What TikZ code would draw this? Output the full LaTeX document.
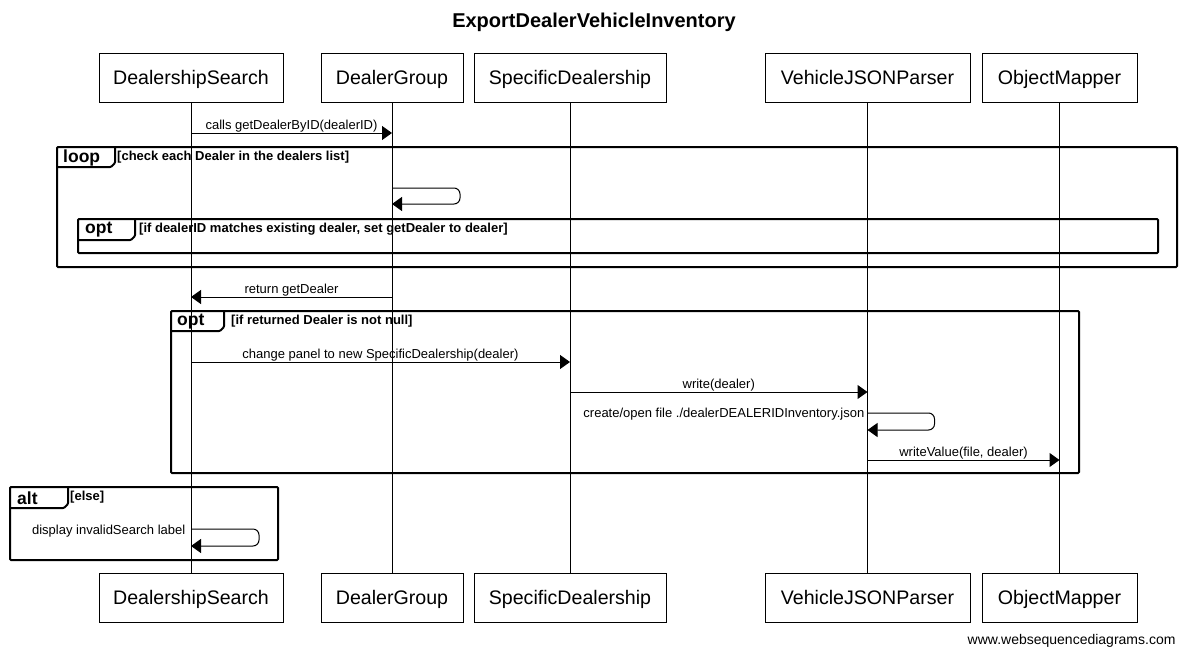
\documentclass[tikz,border=0pt]{standalone}
\usepackage{fontspec}
\setmainfont{Liberation Sans}
\usetikzlibrary{arrows.meta,positioning,calc}

\tikzset{
    actor/.style={draw, line width=1pt, minimum height=49pt, inner sep=0pt,
        text height=16pt, text depth=3pt, font=\fontsize{19.6}{23}\selectfont},
    life/.style={line width=1pt},
    msg/.style={line width=1pt, -{Triangle[length=10pt,width=14pt]}},
    lbl/.style={font=\fontsize{13}{15}\selectfont, inner sep=0.5pt},
    frame/.style={line width=2pt, rounded corners=1pt},
    tag/.style={font=\bfseries\fontsize{17.5}{20}\selectfont, anchor=west, inner sep=0pt},
    cond/.style={font=\bfseries\fontsize{13}{15}\selectfont, anchor=north west, inner sep=0pt}
}

\begin{document}
\begin{tikzpicture}[x=1pt, y=-1pt]
    \useasboundingbox[fill=white] (0,0) rectangle (1188,656);
    % Title
    \node[font=\bfseries\fontsize{20}{24}\selectfont] (title) at (594,22.5) {ExportDealerVehicleInventory};
    % Participants, top and bottom
    \node[actor, minimum width=184pt] (dsTop) at (191,77.5) {DealershipSearch};
    \node[actor, minimum width=142pt] (dgTop) at (392,77.5) {DealerGroup};
    \node[actor, minimum width=192pt] (sdTop) at (570,77.5) {SpecificDealership};
    \node[actor, minimum width=205pt] (vpTop) at (867.5,77.5) {VehicleJSONParser};
    \node[actor, minimum width=155pt] (omTop) at (1059.5,77.5) {ObjectMapper};
    \node[actor, minimum width=184pt] (dsBot) at (191,597.5) {DealershipSearch};
    \node[actor, minimum width=142pt] (dgBot) at (392,597.5) {DealerGroup};
    \node[actor, minimum width=192pt] (sdBot) at (570,597.5) {SpecificDealership};
    \node[actor, minimum width=205pt] (vpBot) at (867.5,597.5) {VehicleJSONParser};
    \node[actor, minimum width=155pt] (omBot) at (1059.5,597.5) {ObjectMapper};
    % Lifelines
    \foreach \p in {ds,dg,sd,vp,om}
        \draw[life] (\p Top.south) -- (\p Bot.north);
    % First call
    \draw[msg] (dsTop.south |- 0,133) -- node[lbl, above] {calls getDealerByID(dealerID)} (dgTop.south |- 0,133);
    % Loop frame
    \draw[frame] (57,147) rectangle (1177,267);
    \draw[frame] (57,167) -- (111,167) -- (115,163) -- (115,147);
    \node[tag] (loopTag) at (63,157.5) {loop};
    \node[cond] (loopCond) at (117,150.5) {[check each Dealer in the dealers list]};
    \draw[msg, rounded corners=6pt] (dgTop.south |- 0,188) -- ++(68,0) -- ++(0,16) -- (dgTop.south |- 0,204);
    % Inner opt frame
    \draw[frame] (78,219) rectangle (1158,253);
    \draw[frame] (78,240) -- (131,240) -- (135,236) -- (135,219);
    \node[tag] (optTagA) at (85,230) {opt};
    \node[cond] (optCondA) at (139,222.5) {[if dealerID matches existing dealer, set getDealer to dealer]};
    % Return
    \draw[msg] (dgTop.south |- 0,297) -- node[lbl, above] {return getDealer} (dsTop.south |- 0,297);
    % Outer opt frame
    \draw[frame] (171,311) rectangle (1079,473);
    \draw[frame] (171,331) -- (220,331) -- (224,327) -- (224,311);
    \node[tag] (optTagB) at (177,322) {opt};
    \node[cond] (optCondB) at (231,314.5) {[if returned Dealer is not null]};
    \draw[msg] (dsTop.south |- 0,362) -- node[lbl, above] {change panel to new SpecificDealership(dealer)} (sdTop.south |- 0,362);
    \draw[msg] (sdTop.south |- 0,392) -- node[lbl, above] {write(dealer)} (vpTop.south |- 0,392);
    \draw[msg, rounded corners=6pt] (vpTop.south |- 0,413) -- ++(67,0) -- ++(0,17) -- (vpTop.south |- 0,430);
    \node[lbl, anchor=east] (fileLbl) at (865,414.5) {create/open file ./dealerDEALERIDInventory.json};
    \draw[msg] (vpTop.south |- 0,460) -- node[lbl, above] {writeValue(file, dealer)} (omTop.south |- 0,460);
    % Alt frame
    \draw[frame] (10,487) rectangle (278,560);
    \draw[frame] (10,508) -- (64,508) -- (68,504) -- (68,487);
    \node[tag] (altTag) at (17,498) {alt};
    \node[cond] (altCond) at (70,490.5) {[else]};
    \draw[msg, rounded corners=6pt] (dsTop.south |- 0,529) -- ++(68,0) -- ++(0,17) -- (dsTop.south |- 0,546);
    \node[lbl, anchor=east] (invLbl) at (186,531.5) {display invalidSearch label};
    % Footer
    \node[font=\fontsize{14}{17}\selectfont, anchor=east] (footer) at (1179,640.5) {www.websequencediagrams.com};
\end{tikzpicture}
\end{document}
